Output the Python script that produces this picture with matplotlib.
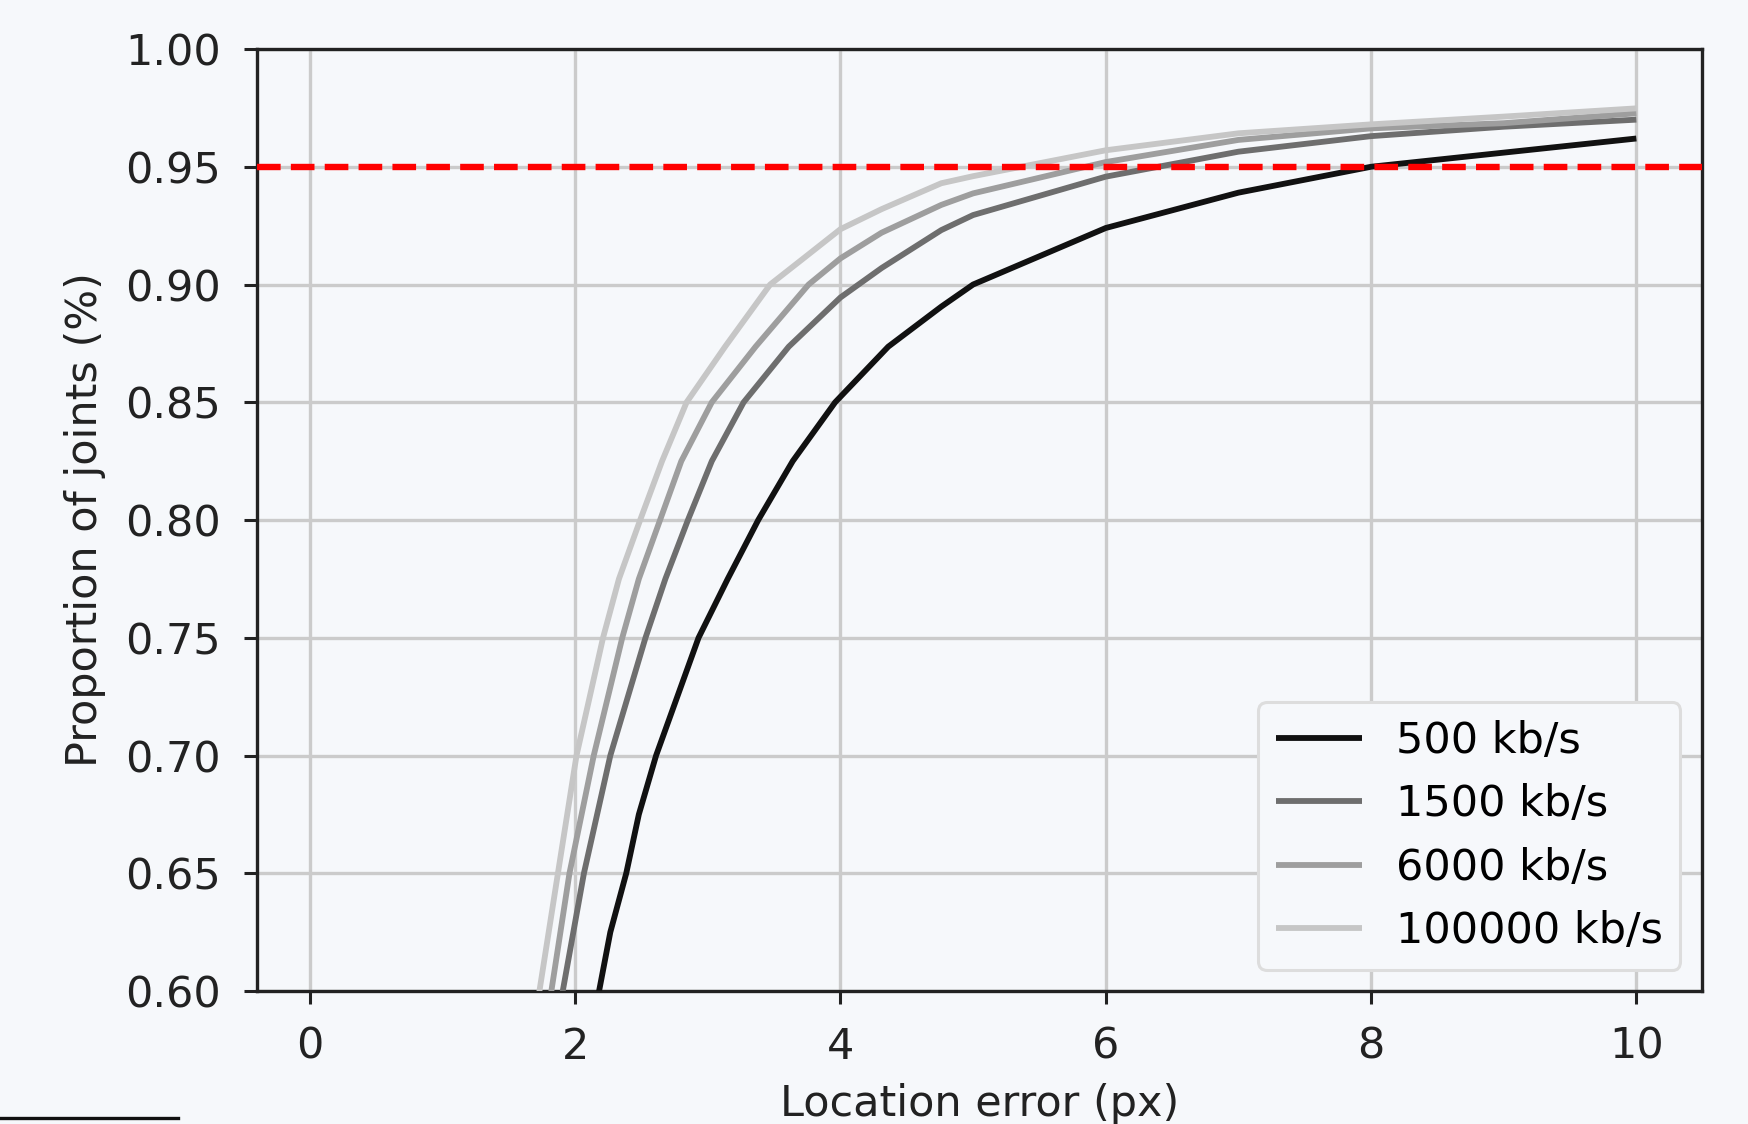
import numpy as np
import matplotlib
matplotlib.use('Agg')
import matplotlib.pyplot as plt
from matplotlib.lines import Line2D

# cumulative proportion of joints vs location error
labels = ['500 kb/s', '1500 kb/s', '6000 kb/s', '100000 kb/s']

x_500 = [2.17, 2.265, 2.385, 2.48, 2.61, 2.93, 3.15, 3.38, 3.64, 3.96,
         4.36, 4.76, 5.0, 6.0, 7.0, 8.0, 9.0, 10.0]
y_500 = [0.597, 0.625, 0.65, 0.675, 0.70, 0.75, 0.775, 0.80, 0.825, 0.85,
         0.8736, 0.8906, 0.900, 0.924, 0.939, 0.950, 0.956, 0.962]

x_1500 = [1.90, 2.066, 2.265, 2.53, 2.68, 2.85, 3.03, 3.27, 3.61, 4.0,
          4.31, 4.76, 5.0, 6.0, 7.0, 8.0, 9.0, 10.0]
y_1500 = [0.598, 0.65, 0.70, 0.75, 0.775, 0.80, 0.825, 0.85, 0.8736, 0.8945,
          0.907, 0.9231, 0.9295, 0.9458, 0.9564, 0.963, 0.967, 0.970]

x_6000 = [1.815, 1.957, 2.14, 2.355, 2.48, 2.64, 2.80, 3.03, 3.36, 3.76,
          4.0, 4.31, 4.76, 5.0, 6.0, 7.0, 8.0, 9.0, 10.0]
y_6000 = [0.598, 0.65, 0.70, 0.75, 0.775, 0.80, 0.825, 0.85, 0.8736, 0.90,
          0.9111, 0.922, 0.9338, 0.9387, 0.952, 0.9614, 0.9663, 0.9685, 0.9727]

x_100000 = [1.725, 1.87, 2.01, 2.21, 2.33, 2.49, 2.655, 2.84, 3.13, 3.47,
            3.73, 4.0, 4.31, 4.76, 5.0, 6.0, 7.0, 8.0, 9.0, 10.0]
y_100000 = [0.598, 0.65, 0.70, 0.75, 0.775, 0.80, 0.825, 0.85, 0.8736, 0.90,
            0.9115, 0.9235, 0.932, 0.943, 0.946, 0.957, 0.9642, 0.968, 0.9713, 0.9748]

threshold = 0.95
xticks = [0, 2, 4, 6, 8, 10]
yticks = [0.60, 0.65, 0.70, 0.75, 0.80, 0.85, 0.90, 0.95, 1.00]

bg = '#f6f8fb'
colors = ['#111111', '#6e6e6e', '#9e9e9e', '#c6c6c6']

plt.rcParams['font.family'] = ['DejaVu Sans']
plt.rcParams['font.size'] = 31

fig = plt.figure(figsize=(17.48, 11.24), dpi=100, facecolor=bg)
ax = fig.add_axes([0.1473, 0.1183, 0.8264, 0.8381], facecolor=bg)

series = [(x_500, y_500), (x_1500, y_1500), (x_6000, y_6000), (x_100000, y_100000)]
for (xs, ys), c, lab in zip(series, colors, labels):
    ax.plot(xs, ys, color=c, lw=4.2, label=lab, zorder=3,
            solid_joinstyle='round', solid_capstyle='butt')

ax.axhline(threshold, color='red', ls='--', lw=4.6, zorder=4)

ax.set_xlim(-0.395, 10.495)
ax.set_ylim(0.6, 1.0)
ax.set_xticks(xticks)
ax.set_yticks(yticks)
ax.set_yticklabels(['%.2f' % v for v in yticks])
ax.grid(True, color='#cbcbcb', lw=2.4, zorder=0)
ax.set_axisbelow(True)

ax.tick_params(axis='both', length=9.5, width=2.2, color='#222222', labelcolor='#222222')
ax.tick_params(axis='x', pad=15.5)
ax.tick_params(axis='y', pad=17)
for s in ax.spines.values():
    s.set_linewidth(2.4)
    s.set_color('#222222')

ax.set_xlabel('Location error (px)', color='#222222')
ax.set_ylabel('Proportion of joints (%)', color='#222222')
ax.xaxis.set_label_coords(0.5, -0.098)
ax.yaxis.set_label_coords(-0.105, 0.5)

leg = ax.legend(loc='lower right', facecolor=bg, edgecolor='#dddddd', framealpha=1)
leg.get_frame().set_linewidth(2.2)

# fragment of a neighbouring element at the bottom-left edge
fig.add_artist(Line2D([0.0, 0.102], [0.0055, 0.0055], color='#111111', lw=2.4))

fig.savefig('out.png', dpi=100, facecolor=bg)
